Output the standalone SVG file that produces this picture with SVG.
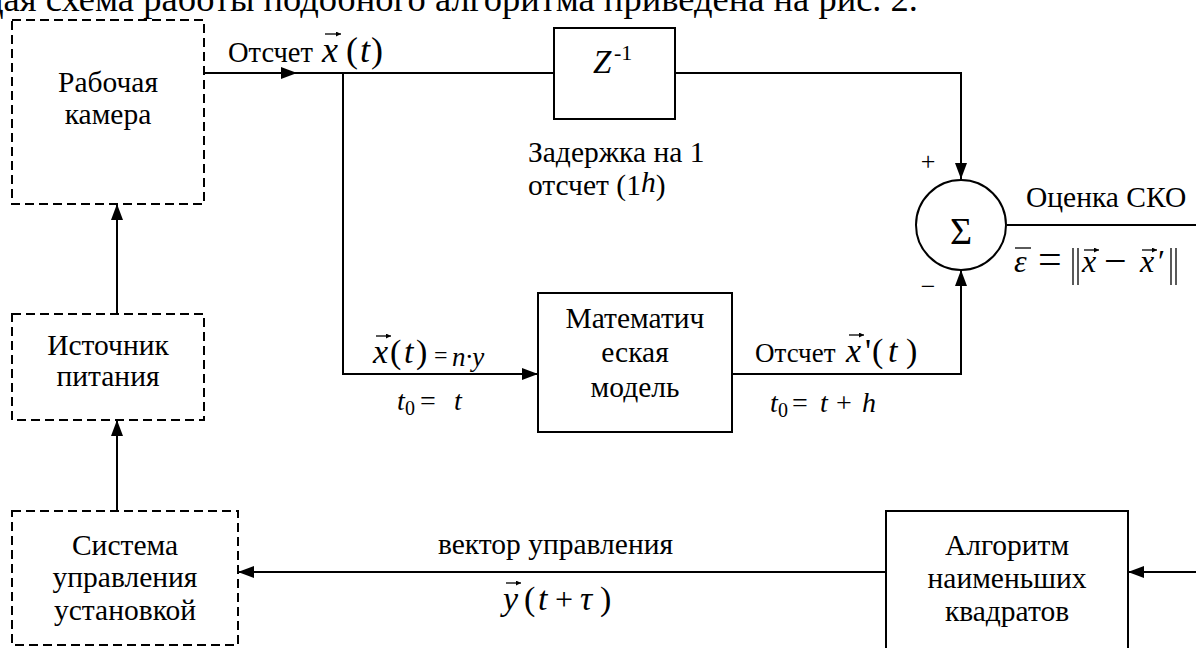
<svg xmlns="http://www.w3.org/2000/svg" width="1196" height="648" viewBox="0 0 1196 648">
<style>
text{font-family:"Liberation Serif","Times New Roman",serif;fill:#000}
.t{font-size:29.5px}
.c{text-anchor:middle}
.i{font-style:italic}
.box{fill:#fff;stroke:#000;stroke-width:2}
.dash{fill:#fff;stroke:#000;stroke-width:2;stroke-dasharray:9 5}
.ln{fill:none;stroke:#000;stroke-width:2}
.acc{fill:none;stroke:#000;stroke-width:1.3}
</style>
<defs>
<marker id="ah" markerUnits="userSpaceOnUse" markerWidth="16" markerHeight="12" refX="16" refY="6" orient="auto">
<path d="M0,0 L16,6 L0,12 z" fill="#000"/>
</marker>
<marker id="va" markerUnits="userSpaceOnUse" markerWidth="5" markerHeight="5" refX="5" refY="2.5" orient="auto">
<path d="M0,0 L5,2.5 L0,5 z" fill="#000"/>
</marker>
</defs>
<rect width="1196" height="648" fill="#fff"/>
<text x="918" y="11" font-size="36.5" text-anchor="end">щая схема работы подобного алгоритма приведена на рис. 2.</text>

<g id="connectors">
<line class="ln" x1="204" y1="73" x2="297" y2="73" marker-end="url(#ah)"/>
<line class="ln" x1="297" y1="73" x2="554" y2="73"/>
<polyline class="ln" points="343,73 343,374 538,374" marker-end="url(#ah)"/>
<polyline class="ln" points="675,73 961,73 961,179" marker-end="url(#ah)"/>
<polyline class="ln" points="732,374 961,374 961,270" marker-end="url(#ah)"/>
<line class="ln" x1="1007" y1="225" x2="1196" y2="225"/>
<line class="ln" x1="1196" y1="572" x2="1128" y2="572" marker-end="url(#ah)"/>
<line class="ln" x1="886" y1="572" x2="238" y2="572" marker-end="url(#ah)"/>
<line class="ln" x1="117" y1="511" x2="117" y2="420" marker-end="url(#ah)"/>
<line class="ln" x1="117" y1="314" x2="117" y2="204" marker-end="url(#ah)"/>
</g>

<g id="camera">
<rect class="dash" x="12" y="20" width="192" height="184"/>
<text class="t c" x="108" y="92">Рабочая</text>
<text class="t c" x="108" y="124">камера</text>
</g>

<g id="power">
<rect class="dash" x="12" y="314" width="192" height="106"/>
<text class="t c" x="108" y="355">Источник</text>
<text class="t c" x="108" y="386">питания</text>
</g>

<g id="control">
<rect class="dash" x="12" y="511" width="226" height="134"/>
<text class="t c" x="125" y="555">Система</text>
<text class="t c" x="125" y="587">управления</text>
<text class="t c" x="125" y="620">установкой</text>
</g>

<g id="delay">
<rect class="box" x="554" y="28" width="121" height="91"/>
<text class="i" x="593" y="73" font-size="33">Z</text>
<text x="614" y="60" font-size="22">-1</text>
</g>

<g id="model">
<rect class="box" x="538" y="293" width="194" height="139"/>
<text class="t c" x="635" y="328">Математич</text>
<text class="t c" x="635" y="362">еская</text>
<text class="t c" x="635" y="397">модель</text>
</g>

<g id="sum">
<circle cx="961" cy="225" r="45" fill="#fff" stroke="#000" stroke-width="2"/>
<text class="c" x="961" y="244" font-size="38">Σ</text>
<text class="c" x="928" y="170" font-size="26">+</text>
<text class="c" x="928" y="295" font-size="26">−</text>
</g>

<g id="lsq">
<rect class="box" x="886" y="511" width="242" height="150"/>
<text class="t c" x="1007" y="555">Алгоритм</text>
<text class="t c" x="1007" y="588">наименьших</text>
<text class="t c" x="1007" y="621">квадратов</text>
</g>

<g id="labels">
<text x="228" y="62" font-size="28.5">Отсчет</text>
<text class="i" x="322" y="62" font-size="36">x</text>
<line class="acc" x1="325" y1="34" x2="341" y2="34" marker-end="url(#va)"/>
<text x="346" y="62" font-size="36">(</text>
<text class="i" x="360" y="62" font-size="36">t</text>
<text x="371" y="62" font-size="36">)</text>

<text class="t" x="528" y="162">Задержка на 1</text>
<text class="t" x="528" y="195">отсчет (1<tspan class="i" dy="-3">h</tspan><tspan dy="3">)</tspan></text>

<text class="t" x="1026" y="207">Оценка СКО</text>
<text class="i" x="1014" y="272" font-size="32">ε</text>
<line class="acc" x1="1015" y1="248" x2="1031" y2="248"/>
<text x="1038" y="273" font-size="42">=</text>
<line class="acc" x1="1073" y1="248" x2="1073" y2="285"/>
<line class="acc" x1="1078" y1="248" x2="1078" y2="285"/>
<text class="i" x="1082" y="272" font-size="32">x</text>
<line class="acc" x1="1084" y1="250" x2="1099" y2="250" marker-end="url(#va)"/>
<text x="1104" y="274" font-size="40">−</text>
<text class="i" x="1140" y="272" font-size="32">x</text>
<line class="acc" x1="1142" y1="250" x2="1157" y2="250" marker-end="url(#va)"/>
<text x="1158" y="272" font-size="32">′</text>
<line class="acc" x1="1171" y1="248" x2="1171" y2="285"/>
<line class="acc" x1="1176" y1="248" x2="1176" y2="285"/>

<text class="i" x="373" y="363" font-size="34">x</text>
<line class="acc" x1="376" y1="336" x2="391" y2="336" marker-end="url(#va)"/>
<text x="390" y="363" font-size="34">(</text>
<text class="i" x="404" y="363" font-size="34">t</text>
<text x="416" y="363" font-size="34">)</text>
<text x="434" y="363" font-size="24">=</text>
<text class="i" x="452" y="366" font-size="27">n·y</text>
<text class="i" x="397" y="410" font-size="28">t</text>
<text x="405" y="415" font-size="20">0</text>
<text x="420" y="410" font-size="28">=</text>
<text class="i" x="454" y="410" font-size="28">t</text>

<text x="755" y="362" font-size="27">Отсчет</text>
<text class="i" x="846" y="362" font-size="34">x</text>
<line class="acc" x1="849" y1="335" x2="864" y2="335" marker-end="url(#va)"/>
<text x="865" y="362" font-size="34">'</text>
<text x="872" y="362" font-size="34">(</text>
<text class="i" x="888" y="362" font-size="34">t</text>
<text x="906" y="362" font-size="34">)</text>
<text class="i" x="770" y="412" font-size="28">t</text>
<text x="778" y="417" font-size="20">0</text>
<text x="792" y="412" font-size="28">=</text>
<text class="i" x="820" y="412" font-size="28">t</text>
<text x="836" y="412" font-size="28">+</text>
<text class="i" x="862" y="412" font-size="28">h</text>

<text class="t" x="438" y="554">вектор управления</text>
<text class="i" x="503" y="610" font-size="34">y</text>
<line class="acc" x1="506" y1="583" x2="521" y2="583" marker-end="url(#va)"/>
<text x="524" y="610" font-size="34">(</text>
<text class="i" x="538" y="610" font-size="34">t</text>
<text x="555" y="610" font-size="32">+</text>
<text class="i" x="580" y="610" font-size="34">τ</text>
<text x="600" y="610" font-size="34">)</text>
</g>
</svg>
